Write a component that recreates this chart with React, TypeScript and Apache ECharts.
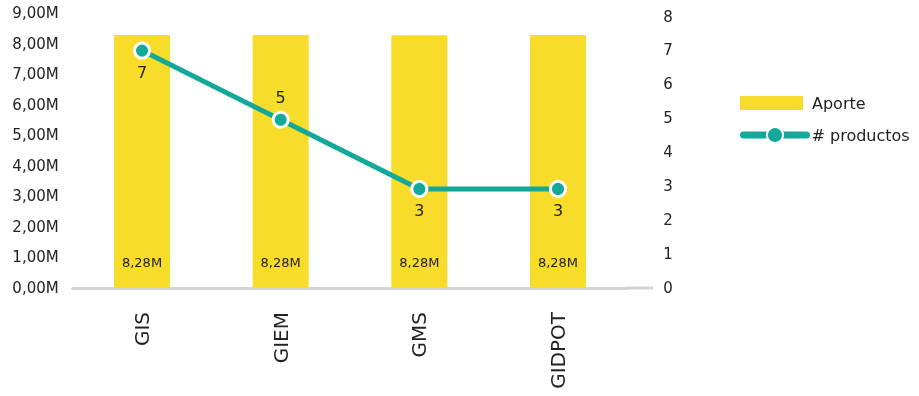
import React, { useEffect, useRef } from "react";
import * as echarts from "echarts";

const categories = ["GIS", "GIEM", "GMS", "GIDPOT"];
const aporte = [8276000, 8277000, 8275000, 8284000];
const productos = [7, 5, 3, 3];
const productLabelPositions = ["bottom", "top", "bottom", "bottom"];

const FONT = "DejaVu Sans";
const YELLOW = "#F8DC2A";
const TEAL = "#13A89A";

export default function App() {
  const ref = useRef<HTMLDivElement>(null);
  useEffect(() => {
    if (!ref.current) return;
    const chart = echarts.init(ref.current, null, { renderer: "svg" });
    const fmtM = (v: number) => (v / 1e6).toFixed(2).replace(".", ",") + "M";
    chart.setOption({
      animation: false,
      textStyle: { fontFamily: FONT },
      grid: [
        { left: 72.7, right: 291.7, top: 13, bottom: 108 },
        { left: 72.7, right: 291.7, top: 16, bottom: 103.3 },
        { left: 72.7, right: 291.7, top: 16.5, bottom: 108 },
      ],
      legend: [
        {
          orient: "vertical",
          left: 735,
          top: 90,
          itemWidth: 63,
          itemHeight: 14,
          textStyle: {
            fontFamily: FONT,
            fontSize: 16,
            color: "#222",
            padding: [0, 0, 0, 4],
          },
          data: [{ name: "Aporte", icon: "rect", itemStyle: { color: YELLOW } }],
        },
        {
          orient: "vertical",
          left: 735,
          top: 121,
          itemWidth: 63,
          itemHeight: 20,
          textStyle: { fontFamily: FONT, fontSize: 16, color: "#222" },
          data: [
            {
              name: "# productos",
              lineStyle: { width: 7, cap: "round", color: TEAL },
              itemStyle: { color: TEAL, borderColor: "#fff", borderWidth: 2 },
            },
          ],
        },
      ],
      xAxis: [
        {
          type: "category",
          data: categories,
          gridIndex: 0,
          axisLine: { show: true, lineStyle: { color: "#d4d4d4", width: 3 } },
          axisTick: { show: false },
          axisLabel: {
            rotate: 90,
            margin: 24,
            fontSize: 20,
            color: "#222",
            fontFamily: FONT,
          },
        },
        { type: "category", data: categories, gridIndex: 1, show: false },
        { type: "category", data: categories, gridIndex: 2, show: false },
      ],
      yAxis: [
        {
          type: "value",
          gridIndex: 0,
          min: 0,
          max: 9000000,
          interval: 1000000,
          splitLine: { show: false },
          axisLine: { show: false },
          axisTick: { show: false },
          axisLabel: {
            margin: 14,
            fontSize: 15,
            color: "#222",
            fontFamily: FONT,
            formatter: fmtM,
          },
        },
        {
          type: "value",
          gridIndex: 2,
          min: 0,
          max: 8,
          interval: 1,
          position: "right",
          splitLine: { show: false },
          axisLine: { show: false },
          axisTick: { show: false },
          axisLabel: {
            margin: 36,
            fontSize: 15,
            color: "#222",
            fontFamily: FONT,
          },
        },
        {
          type: "value",
          gridIndex: 1,
          min: 0,
          max: 8,
          interval: 1,
          show: false,
        },
      ],
      graphic: [
        {
          type: "line",
          shape: { x1: 626, y1: 288, x2: 653, y2: 288 },
          style: { stroke: "#d4d4d4", lineWidth: 3 },
          silent: true,
        },
      ],
      series: [
        {
          name: "Aporte",
          type: "bar",
          data: aporte,
          barWidth: 56,
          itemStyle: { color: YELLOW },
          label: {
            show: true,
            position: "insideBottom",
            distance: 19,
            fontSize: 13,
            color: "#222",
            fontFamily: FONT,
            formatter: (p: any) => fmtM(p.value),
          },
        },
        {
          name: "# productos",
          type: "line",
          xAxisIndex: 1,
          yAxisIndex: 2,
          data: productos.map((v, i) => ({
            value: v,
            label: { position: productLabelPositions[i] },
          })),
          symbol: "circle",
          symbolSize: 15,
          lineStyle: { color: TEAL, width: 5 },
          itemStyle: { color: TEAL, borderColor: "#fff", borderWidth: 3 },
          label: {
            show: true,
            distance: 5,
            fontSize: 16,
            color: "#222",
            fontFamily: FONT,
          },
          z: 5,
        },
      ],
    });
    return () => chart.dispose();
  }, []);
  return (
    <div
      ref={ref}
      style={{ position: "fixed", left: 0, top: 0, width: 919, height: 396 }}
    />
  );
}
